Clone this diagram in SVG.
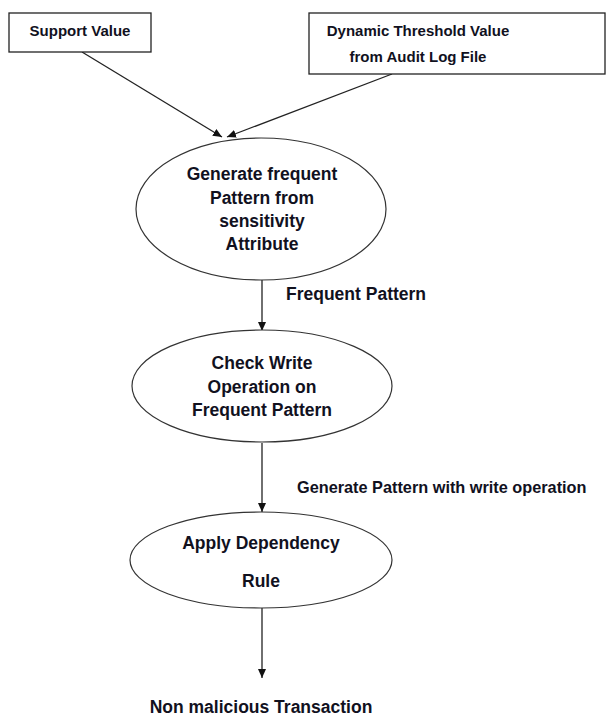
<svg xmlns="http://www.w3.org/2000/svg" width="606" height="717" viewBox="0 0 606 717">
<style>
.box{fill:#fff;stroke:#222;stroke-width:1.3}
.ell{fill:#fff;stroke:#333;stroke-width:1.2}
.t{font-family:"Liberation Sans",Arial,sans-serif;font-weight:bold;font-size:15px;fill:#11111e;text-anchor:middle}
.e{font-family:"Liberation Sans",Arial,sans-serif;font-weight:bold;font-size:17.5px;fill:#11111e;text-anchor:middle}
.l{font-family:"Liberation Sans",Arial,sans-serif;font-weight:bold;font-size:17.5px;fill:#11111e}
.c{stroke:#222;stroke-width:1.3;fill:none;marker-end:url(#ah)}
</style>
<defs>
<marker id="ah" markerWidth="10" markerHeight="10" refX="9" refY="5" orient="auto" markerUnits="userSpaceOnUse">
<path d="M0,1 L9,5 L0,9 Z" fill="#111"/>
</marker>
</defs>
<rect width="606" height="717" fill="#fff"/>
<g id="connectors">
<line class="c" x1="82" y1="52" x2="222" y2="137"/>
<line class="c" x1="392" y1="74" x2="227" y2="137"/>
<line class="c" x1="262" y1="280" x2="262" y2="331"/>
<line class="c" x1="262" y1="443" x2="262" y2="512" stroke="#555"/>
<line class="c" x1="262" y1="600" x2="262" y2="678"/>
</g>
<g id="support">
<rect class="box" x="9" y="13" width="142" height="39"/>
<text class="t" x="80" y="36">Support Value</text>
</g>
<g id="threshold">
<rect class="box" x="309" y="13" width="296" height="61"/>
<text class="t" x="418" y="36">Dynamic Threshold Value</text>
<text class="t" x="418" y="62">from Audit Log File</text>
</g>
<g id="generate">
<ellipse class="ell" cx="261" cy="209" rx="125" ry="71"/>
<text class="e" x="262" y="180">Generate frequent</text>
<text class="e" x="262" y="204">Pattern from</text>
<text class="e" x="262" y="227">sensitivity</text>
<text class="e" x="262" y="250">Attribute</text>
</g>
<g id="check">
<ellipse class="ell" cx="262" cy="386" rx="130" ry="56"/>
<text class="e" x="262" y="369">Check Write</text>
<text class="e" x="262" y="393">Operation on</text>
<text class="e" x="262" y="416">Frequent Pattern</text>
</g>
<g id="apply">
<ellipse class="ell" cx="261" cy="560" rx="131" ry="48"/>
<text class="e" x="261" y="549">Apply Dependency</text>
<text class="e" x="261" y="587">Rule</text>
</g>
<g id="labels">
<text class="l" x="286" y="300">Frequent Pattern</text>
<text class="l" x="297" y="493" style="font-size:16.3px">Generate Pattern with write operation</text>
<text class="e" x="261" y="713">Non malicious Transaction</text>
</g>
</svg>
